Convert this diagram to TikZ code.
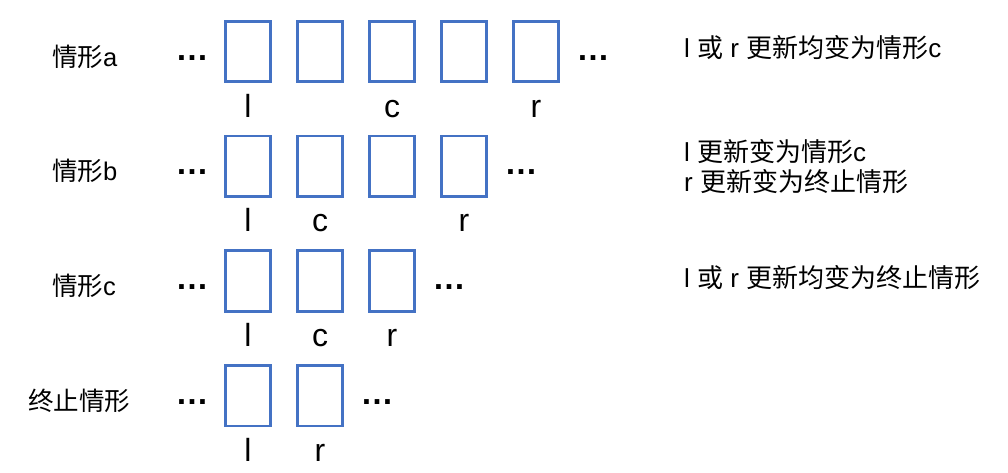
\documentclass[tikz,border=0pt]{standalone}
\usepackage{fontspec}
\setmainfont{Liberation Sans}
\newfontfamily\cjk{Noto Sans CJK SC}
\definecolor{boxblue}{HTML}{4472C4}
\begin{document}
\begin{tikzpicture}[x=1pt,y=-1pt,
  cell/.style={draw=boxblue,line width=2.7pt,minimum width=45.5pt,minimum height=60.5pt,inner sep=0pt},
  dotsty/.style={font=\fontsize{33}{36}\selectfont\bfseries,inner sep=0pt,anchor=base},
  lbl/.style={font=\fontsize{32}{36}\selectfont,inner sep=0pt,anchor=base},
  rowname/.style={font=\fontsize{25.5}{30}\selectfont,inner sep=0pt,anchor=base west},
  note/.style={font=\fontsize{26}{30}\selectfont,inner sep=0pt,anchor=base west}]
\useasboundingbox[fill=white] (0,0) rectangle (1008,472);
\foreach \r/\n/\dy in {a/5/0,b/4/114.7,c/3/229.4,d/2/344.1}{
  \foreach \i in {1,...,\n}{
    \node[cell] (\r\i) at ({248+72*(\i-1)},{51.5+\dy}) {};
  }
  \node[dotsty] (\r L) at (192,{60+\dy}) {…};
  \node[dotsty] (\r R) at ({248+72*(\n-1)+24+33},{60+\dy}) {…};
}
% row names
\node[rowname] (na) at (52,66) {{\cjk 情形}a};
\node[rowname] (nb) at (52,180.7) {{\cjk 情形}b};
\node[rowname] (nc) at (52,295.4) {{\cjk 情形}c};
\node[rowname] (nd) at (28,410.1) {\cjk 终止情形};
% labels under boxes
\node[lbl] (la-l) at ([yshift=-34pt]a1.south) {l};
\node[lbl] (la-c) at ([yshift=-34pt]a3.south) {c};
\node[lbl] (la-r) at ([yshift=-34pt]a5.south) {r};
\node[lbl] (lb-l) at ([yshift=-34pt]b1.south) {l};
\node[lbl] (lb-c) at ([yshift=-34pt]b2.south) {c};
\node[lbl] (lb-r) at ([yshift=-34pt]b4.south) {r};
\node[lbl] (lc-l) at ([yshift=-34pt]c1.south) {l};
\node[lbl] (lc-c) at ([yshift=-34pt]c2.south) {c};
\node[lbl] (lc-r) at ([yshift=-34pt]c3.south) {r};
\node[lbl] (ld-l) at ([yshift=-34pt]d1.south) {l};
\node[lbl] (ld-r) at ([yshift=-34pt]d2.south) {r};
% notes
\node[note] (ta) at (684,57) {l {\cjk 或} r {\cjk 更新均变为情形}c};
\node[note] (tb1) at (684,161) {l {\cjk 更新变为情形}c};
\node[note] (tb2) at (684,191) {r {\cjk 更新变为终止情形}};
\node[note] (tc) at (684,287) {l {\cjk 或} r {\cjk 更新均变为终止情形}};
\end{tikzpicture}
\end{document}
